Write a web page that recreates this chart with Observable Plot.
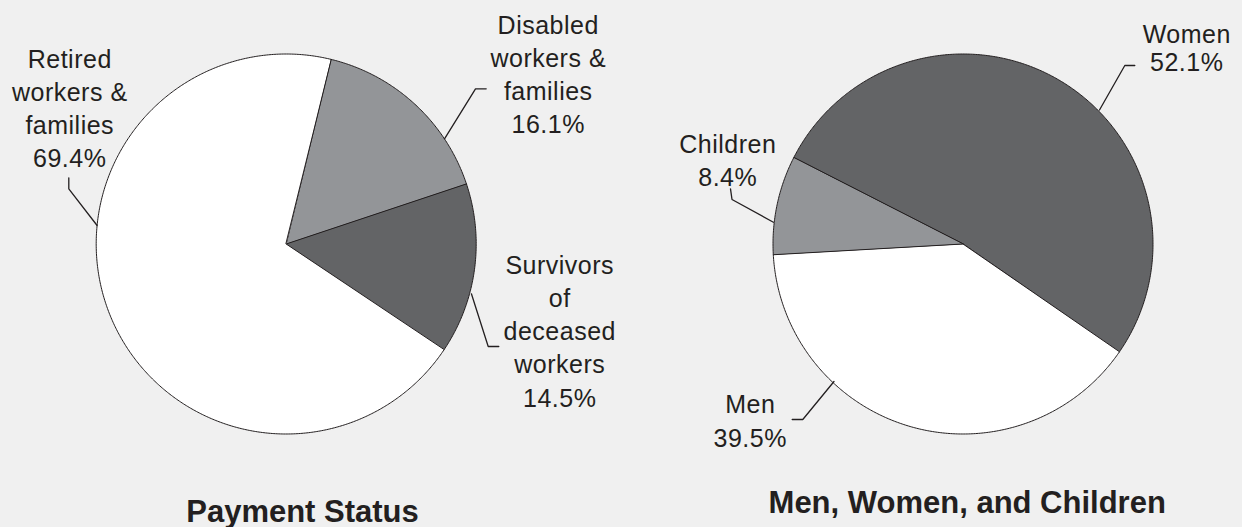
<!DOCTYPE html>
<html>
<head>
<meta charset="utf-8">
<script src="https://cdn.jsdelivr.net/npm/d3@7"></script>
<script src="https://cdn.jsdelivr.net/npm/@observablehq/plot@0.6"></script>
<style>
  html, body { margin: 0; padding: 0; background: #f0f0f0; }
  #chart { width: 1242px; height: 527px; }
  .pie-label text, text.pie-label, .pie-label { letter-spacing: 0.5px; }
</style>
</head>
<body>
<div id="chart"></div>
<script>
// ---- data ----
const paymentCategories = ["Disabled workers & families", "Survivors of deceased workers", "Retired workers & families"];
const paymentValues = [16.1, 14.5, 69.4];
const paymentLabelLines = [["Disabled", "workers &", "families"], ["Survivors", "of", "deceased", "workers"], ["Retired", "workers &", "families"]];

const groupCategories = ["Women", "Men", "Children"];
const groupValues = [52.1, 39.5, 8.4];
const groupLabelLines = [["Women"], ["Men"], ["Children"]];

const chartTitles = ["Payment Status", "Men, Women, and Children"];

// ---- layout (not data) ----
const W = 1242, H = 527;
const ink = "#231f20";
const pies = [
  {cx: 285.7, cy: 243.5, r: 190, start: 13.6, cats: paymentCategories, vals: paymentValues, lines: paymentLabelLines,
   fills: ["#939598", "#636466", "#ffffff"], title: chartTitles[0], tx: 302, ty: 521},
  {cx: 962.5, cy: 243.5, r: 190, start: -63, cats: groupCategories, vals: groupValues, lines: groupLabelLines,
   fills: ["#636466", "#ffffff", "#939598"], title: chartTitles[1], tx: 966.7, ty: 512.5}
];
// label anchor (x centre, baseline of last line) and leader polyline per category
const labelLayout = {
  "Retired workers & families": {x: 69, y: 166, lh: 1.32, leader: [[68.3, 177.3], [68.3, 188.3], [96.6, 225]]},
  "Disabled workers & families": {x: 547.5, y: 132, lh: 1.32, leader: [[485.7, 88.3], [475, 88.3], [444, 138.3]]},
  "Survivors of deceased workers": {x: 559, y: 406, lh: 1.33, leader: [[498.3, 346], [487.7, 346], [470.9, 293.3]]},
  "Children": {x: 727, y: 185.7, lh: 1.335, leader: [[730, 188.3], [731.5, 199], [772.9, 221.7]]},
  "Women": {x: 1186, y: 70.3, lh: 1.12, leader: [[1134.3, 65], [1124.3, 65], [1099, 109.5]]},
  "Men": {x: 749.5, y: 446, lh: 1.345, leader: [[791.7, 419], [802.3, 419], [833.5, 381]]}
};

// ---- derived tables ----
const slicePts = [];
const labels = [];
const leaders = [];
const colorDomain = [], colorRange = [];
const titleRows = [];
pies.forEach(p => {
  const total = d3.sum(p.vals);
  let a = p.start;
  p.vals.forEach((v, i) => {
    const name = p.cats[i];
    colorDomain.push(name); colorRange.push(p.fills[i]);
    const a0 = a, a1 = a + v / total * 360;
    slicePts.push({name, x: p.cx, y: p.cy});
    const n = Math.max(2, Math.ceil(a1 - a0) * 2);
    for (let k = 0; k <= n; k++) {
      const t = (a0 + (a1 - a0) * k / n) * Math.PI / 180;
      slicePts.push({name, x: p.cx + p.r * Math.sin(t), y: p.cy - p.r * Math.cos(t)});
    }
    a = a1;
    const L = labelLayout[name];
    labels.push({name, x: L.x, y: L.y, lh: L.lh, text: [...p.lines[i], v.toFixed(1) + "%"].join("\n")});
    L.leader.forEach(([x, y]) => leaders.push({name, x, y}));
  });
  titleRows.push({text: p.title, x: p.tx, y: p.ty});
});

const lhGroups = d3.groups(labels, d => d.lh);

const chart = Plot.plot({
  width: W, height: H,
  marginTop: 0, marginRight: 0, marginBottom: 0, marginLeft: 0,
  x: {domain: [0, W], range: [0, W], axis: null},
  y: {domain: [0, H], range: [0, H], axis: null},
  color: {domain: colorDomain, range: colorRange},
  style: {background: "#f0f0f0", fontFamily: "'Liberation Sans', Arial, sans-serif", overflow: "visible"},
  marks: [
    Plot.line(slicePts, {x: "x", y: "y", z: "name", fill: "name", stroke: ink, strokeWidth: 1, curve: "linear-closed", strokeLinejoin: "round"}),
    Plot.line(leaders, {x: "x", y: "y", z: "name", stroke: ink, strokeWidth: 1.3, strokeLinejoin: "miter"}),
    ...lhGroups.map(([lh, rows]) => Plot.text(rows, {
      x: "x", y: "y", text: "text", fontSize: 25, lineHeight: lh, lineAnchor: "bottom",
      textAnchor: "middle", fill: ink, dx: 0.25, className: "pie-label"
    })),
    Plot.text(titleRows, {x: "x", y: "y", text: "text", fontSize: 31, fontWeight: "bold", lineAnchor: "bottom", textAnchor: "middle", fill: ink})
  ]
});
document.getElementById("chart").appendChild(chart);
</script>
</body>
</html>
